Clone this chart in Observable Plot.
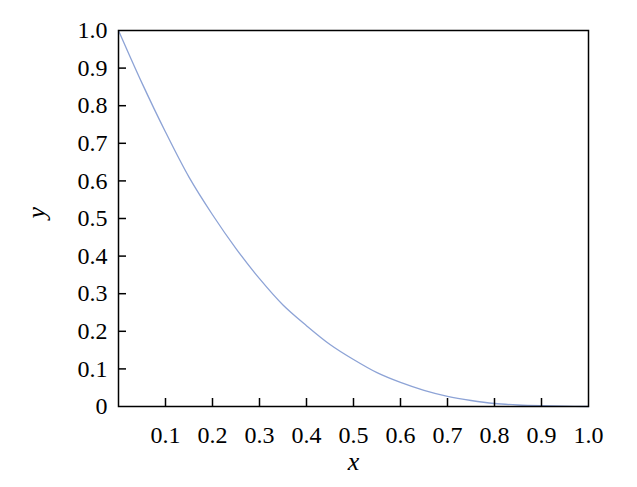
<!DOCTYPE html>
<html><head><meta charset="utf-8">
<script src="https://cdn.jsdelivr.net/npm/d3@7"></script>
<script src="https://cdn.jsdelivr.net/npm/@observablehq/plot@0.6"></script>
<style>
body{margin:0;background:#fff}
</style>
</head><body><div id="chart"></div>
<script>
const xs = [0, 0.05, 0.1, 0.15, 0.2, 0.25, 0.3, 0.35, 0.4, 0.45, 0.5, 0.55, 0.6, 0.65, 0.7, 0.75, 0.8, 0.85, 0.9, 0.95, 1.0];
const ys = [1.0, 0.86, 0.73, 0.61, 0.51, 0.42, 0.34, 0.27, 0.215, 0.165, 0.125, 0.09, 0.064, 0.043, 0.027, 0.016, 0.008, 0.004, 0.002, 0.001, 0];
const xTickLabels = [0.1, 0.2, 0.3, 0.4, 0.5, 0.6, 0.7, 0.8, 0.9, 1.0];
const yTickLabels = [0, 0.1, 0.2, 0.3, 0.4, 0.5, 0.6, 0.7, 0.8, 0.9, 1.0];
const innerTicks = [0.1, 0.2, 0.3, 0.4, 0.5, 0.6, 0.7, 0.8, 0.9];
const data = xs.map((x, i) => ({x, y: ys[i]}));
const fmt = d => d === 0 ? "0" : d.toFixed(1);
const font = "'Liberation Serif', serif";
const plot = Plot.plot({
  width: 637, height: 487,
  marginLeft: 118, marginRight: 49, marginTop: 30, marginBottom: 81,
  style: {fontFamily: font, fontSize: "24px", color: "#000", background: "#fff"},
  x: {domain: [0, 1]},
  y: {domain: [0, 1]},
  marks: [
    Plot.line(data, {x: "x", y: "y", stroke: "#8da3d6", strokeWidth: 1.3, curve: "catmull-rom"}),
    Plot.axisX(innerTicks, {tickSize: -8, tickFormat: () => "", strokeWidth: 1.5, label: null}),
    Plot.axisY(innerTicks, {tickSize: -8, tickFormat: () => "", strokeWidth: 1.5, label: null}),
    Plot.axisX(xTickLabels, {tickSize: 0, tickPadding: 19, tickFormat: fmt, label: null, fontSize: 24}),
    Plot.axisY(yTickLabels, {tickSize: 0, tickPadding: 11, tickFormat: fmt, label: null, fontSize: 24}),
    Plot.frame({stroke: "#000", strokeWidth: 1.5}),
    Plot.text(["x"], {frameAnchor: "bottom", dy: 63, text: d => d, fontStyle: "italic", fontSize: 26}),
    Plot.text(["y"], {frameAnchor: "left", dx: -82, text: d => d, fontStyle: "italic", fontSize: 26, rotate: -90})
  ]
});
document.getElementById("chart").appendChild(plot);
</script></body></html>
